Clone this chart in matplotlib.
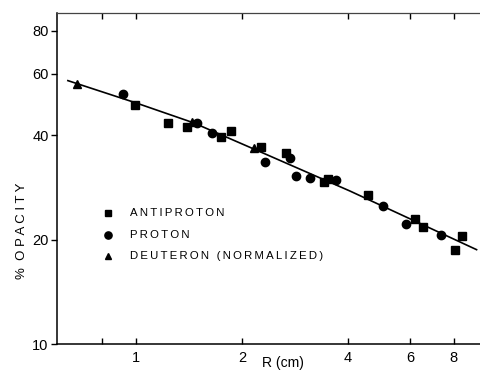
import matplotlib
matplotlib.use("Agg")
import matplotlib.pyplot as plt
from matplotlib.ticker import FixedLocator, NullLocator

plt.rcParams['font.family'] = ['Liberation Sans', 'DejaVu Sans']

# Antiproton data (R in cm, % opacity)
anti_r = [0.993, 1.235, 1.393, 1.743, 1.858, 2.261, 2.667, 3.42, 3.52, 4.55, 6.20, 6.55, 8.08, 8.43]
anti_y = [48.9, 43.2, 42.2, 39.6, 41.1, 37.0, 35.4, 29.2, 29.8, 26.8, 22.9, 21.8, 18.7, 20.5]

# Proton data
prot_r = [0.920, 1.493, 1.647, 2.325, 2.729, 2.846, 3.12, 3.69, 5.02, 5.85, 7.35]
prot_y = [52.5, 43.2, 40.6, 33.5, 34.3, 30.5, 30.0, 29.7, 24.9, 22.2, 20.6]

# Deuteron (normalized) data
deut_r = [0.681, 1.445, 2.165]
deut_y = [56.1, 43.6, 36.8]

# Fitted curve
fit_r = [0.64, 1.0, 1.455, 2.325, 4.05, 9.28]
fit_y = [57.4, 49.5, 43.4, 35.3, 27.6, 18.7]

xticks = [1, 2, 4, 6, 8]
xtick_labels = ["1", "2", "4", "6", "8"]
yticks = [10, 20, 40, 60, 80]
ytick_labels = ["10", "20", "40", "60", "80"]

legend_labels = ["ANTIPROTON", "PROTON", "DEUTERON (NORMALIZED)"]

fig = plt.figure(figsize=(4.8, 3.73), dpi=100)
ax = fig.add_axes([57/480, 1 - 344/373, 1 - 57/480, (344 - 13)/373])
ax.set_xscale('log')
ax.set_yscale('log')
ax.set_xlim(0.596, 9.49)
ax.set_ylim(10, 89.9)

ax.plot(fit_r, fit_y, color='black', lw=1.2, zorder=2)
ax.plot(anti_r, anti_y, 's', color='black', ms=5.2, zorder=3)
ax.plot(prot_r, prot_y, 'o', color='black', ms=6.0, zorder=3)
ax.plot(deut_r, deut_y, '^', color='black', ms=6.2, zorder=3)

ax.spines['right'].set_visible(False)
for s in ['left', 'bottom']:
    ax.spines[s].set_linewidth(1.1)
ax.spines['top'].set_linewidth(0.9)
ax.spines['top'].set_color('#444444')

ax.xaxis.set_major_locator(FixedLocator([0.8] + xticks))
ax.set_xticklabels([""] + xtick_labels)
ax.xaxis.set_minor_locator(NullLocator())
ax.yaxis.set_major_locator(FixedLocator(yticks))
ax.set_yticklabels(ytick_labels)
ax.yaxis.set_minor_locator(NullLocator())

ax.tick_params(axis='x', direction='in', top=True, bottom=True, length=4, width=1,
               labelsize=10.5, pad=5)
ax.tick_params(axis='y', direction='out', left=True, length=4, width=1,
               labelsize=10.5, pad=2)

fig.text(283/480, 1 - 363/373, "R (cm)", ha='center', va='center', fontsize=10)
fig.text(22/480, 1 - 231/373, "%  O P A C I T Y", ha='center', va='center',
         rotation=90, fontsize=9.5)

# legend
leg_y = [213, 235, 256]
markers = ['s', 'o', '^']
msz = [4.2, 5.2, 4.2]
thin = "\u2009"
for lab, py, m, s in zip(legend_labels, leg_y, markers, msz):
    fig.lines.append(plt.Line2D([108/480], [1 - py/373], marker=m, color='black', ms=s,
                                linestyle='none', transform=fig.transFigure))
    fig.text(130/480, 1 - py/373, thin.join(lab), ha='left', va='center',
             fontsize=8.2)

fig.savefig("out.png", dpi=100)
